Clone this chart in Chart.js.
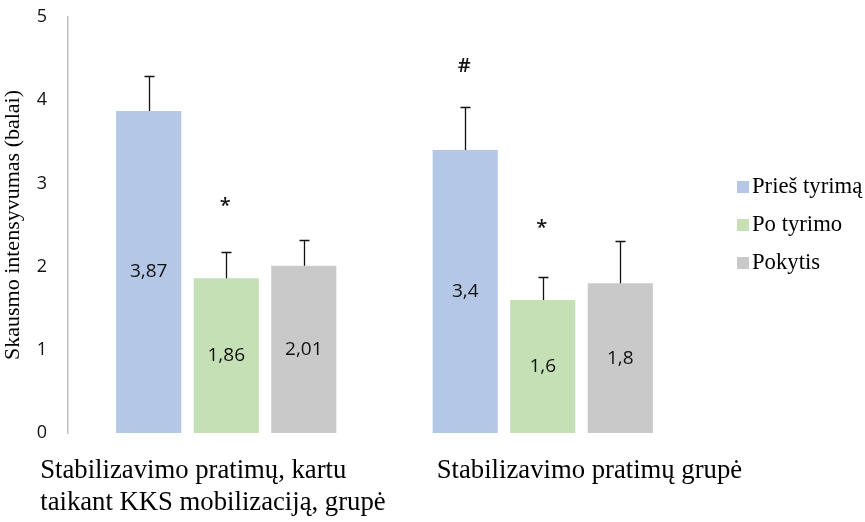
<!DOCTYPE html>
<html>
<head>
<meta charset="utf-8">
<script src="https://cdn.jsdelivr.net/npm/chart.js@4/dist/chart.umd.min.js"></script>
<style>
  html, body { margin: 0; padding: 0; background: #ffffff; }
  #wrap { width: 865px; height: 522px; }
</style>
</head>
<body>
<div id="wrap"><canvas id="c" width="865" height="522"></canvas></div>
<script>
// Group labels (each entry is a list of lines)
const categories = [
  ['Stabilizavimo pratimų, kartu', 'taikant KKS mobilizaciją, grupė'],
  ['Stabilizavimo pratimų grupė']
];
const seriesNames = ['Prieš tyrimą', 'Po tyrimo', 'Pokytis'];

// Mean scores per group
const priesTyrima = [3.87, 3.4];
const poTyrimo    = [1.86, 1.6];
const pokytis     = [2.01, 1.8];

// Upper error (standard deviation) per group
const priesTyrimaErr = [0.42, 0.52];
const poTyrimoErr    = [0.32, 0.28];
const pokytisErr     = [0.31, 0.51];

// Y axis ticks
const yTicks = [0, 1, 2, 3, 4, 5];

// Significance marks: series index, group index, symbol, height on the value axis
const markSeries   = [1, 0, 1];
const markGroup    = [0, 1, 1];
const markSymbol   = ['*', '#', '*'];
const markHeight   = [2.73, 4.41, 2.46];

const colors = ['#b4c7e7', '#c5e0b4', '#c9c9c9'];
const values = [priesTyrima, poTyrimo, pokytis];
const errors = [priesTyrimaErr, poTyrimoErr, pokytisErr];

const SANS = "'Open Sans', 'Liberation Sans', sans-serif";
const SERIF = "'Liberation Serif', 'DejaVu Serif', serif";

const fmt = v => String(v).replace('.', ',');

// Upper-only error bars with a short cap
const errorBars = {
  id: 'errorBars',
  afterDatasetsDraw(chart) {
    const { ctx } = chart;
    const y = chart.scales.y;
    ctx.save();
    ctx.strokeStyle = '#111111';
    ctx.lineWidth = 1.3;
    chart.data.datasets.forEach((ds, di) => {
      chart.getDatasetMeta(di).data.forEach((bar, i) => {
        const x = Math.round(bar.x) + 0.5;
        const top = Math.round(y.getPixelForValue(ds.data[i] + ds.errUp[i])) + 0.5;
        ctx.beginPath();
        ctx.moveTo(x, bar.y);
        ctx.lineTo(x, top);
        ctx.moveTo(x - 5, top);
        ctx.lineTo(x + 5, top);
        ctx.stroke();
      });
    });
    ctx.restore();
  }
};

// Value labels centred inside each bar
const valueLabels = {
  id: 'valueLabels',
  afterDatasetsDraw(chart) {
    const { ctx } = chart;
    ctx.save();
    ctx.fillStyle = '#111111';
    ctx.font = `19px ${SANS}`;
    ctx.textAlign = 'center';
    ctx.textBaseline = 'middle';
    chart.data.datasets.forEach((ds, di) => {
      chart.getDatasetMeta(di).data.forEach((bar, i) => {
        ctx.fillText(fmt(ds.data[i]), bar.x, (bar.y + bar.base) / 2);
      });
    });
    ctx.restore();
  }
};

// Significance symbols above bars
const sigMarks = {
  id: 'sigMarks',
  afterDatasetsDraw(chart) {
    const { ctx } = chart;
    const y = chart.scales.y;
    ctx.save();
    ctx.fillStyle = '#111111';
    ctx.font = `600 20px ${SANS}`;
    ctx.textAlign = 'center';
    ctx.textBaseline = 'middle';
    markSymbol.forEach((s, k) => {
      const bar = chart.getDatasetMeta(markSeries[k]).data[markGroup[k]];
      ctx.fillText(s, bar.x - 1, y.getPixelForValue(markHeight[k]));
    });
    ctx.restore();
  }
};

// Group names under the plot, left-aligned blocks
const groupNames = {
  id: 'groupNames',
  afterDraw(chart) {
    const { ctx, chartArea } = chart;
    const x = chart.scales.x;
    const shift = [-186, -106];
    ctx.save();
    ctx.fillStyle = '#000000';
    ctx.font = `26.7px ${SERIF}`;
    ctx.textAlign = 'left';
    ctx.textBaseline = 'middle';
    categories.forEach((lines, i) => {
      const left = x.getPixelForValue(i) + shift[i];
      lines.forEach((t, li) => {
        ctx.fillText(t, left, chartArea.bottom + 38 + li * 32);
      });
    });
    ctx.restore();
  }
};

// Legend on the right
const sideLegend = {
  id: 'sideLegend',
  afterDraw(chart) {
    const { ctx, chartArea } = chart;
    const mid = (chartArea.top + chartArea.bottom) / 2;
    const step = 38;
    ctx.save();
    ctx.font = `22.7px ${SERIF}`;
    ctx.textAlign = 'left';
    ctx.textBaseline = 'middle';
    chart.data.datasets.forEach((ds, i) => {
      const cy = mid + (i - 1) * step;
      ctx.fillStyle = ds.backgroundColor;
      ctx.fillRect(737, Math.round(cy - 6), 12, 12);
      ctx.fillStyle = '#000000';
      ctx.fillText(ds.label, 752, cy);
    });
    ctx.restore();
  }
};

new Chart(document.getElementById('c'), {
  type: 'bar',
  data: {
    labels: categories,
    datasets: seriesNames.map((name, i) => ({
      label: name,
      data: values[i],
      errUp: errors[i],
      backgroundColor: colors[i],
      borderWidth: 0,
      categoryPercentage: 0.735,
      barPercentage: 0.84
    }))
  },
  options: {
    responsive: false,
    animation: false,
    layout: { padding: { top: 17, right: 164, bottom: 0, left: 0 } },
    plugins: {
      legend: { display: false },
      tooltip: { enabled: false }
    },
    scales: {
      x: {
        grid: { display: false },
        border: { display: false },
        ticks: { display: false },
        afterFit(s) { s.height = 89; }
      },
      y: {
        min: 0,
        max: 5,
        afterBuildTicks(s) { s.ticks = yTicks.map(v => ({ value: v })); },
        grid: { display: false, drawTicks: false },
        border: { display: true, color: '#bfbfbf', width: 1.5 },
        ticks: {
          padding: 21,
          color: '#111111',
          font: { family: SANS, size: 18 }
        },
        title: {
          display: true,
          text: 'Skausmo intensyvumas (balai)',
          color: '#000000',
          font: { family: SERIF, size: 22 },
          padding: { top: 0, bottom: 0 }
        },
        afterFit(s) {
          s.width = 68;
          s.paddingTop = 0;
          s.paddingBottom = 0;
        }
      }
    }
  },
  plugins: [errorBars, valueLabels, sigMarks, groupNames, sideLegend]
});
</script>
</body>
</html>
